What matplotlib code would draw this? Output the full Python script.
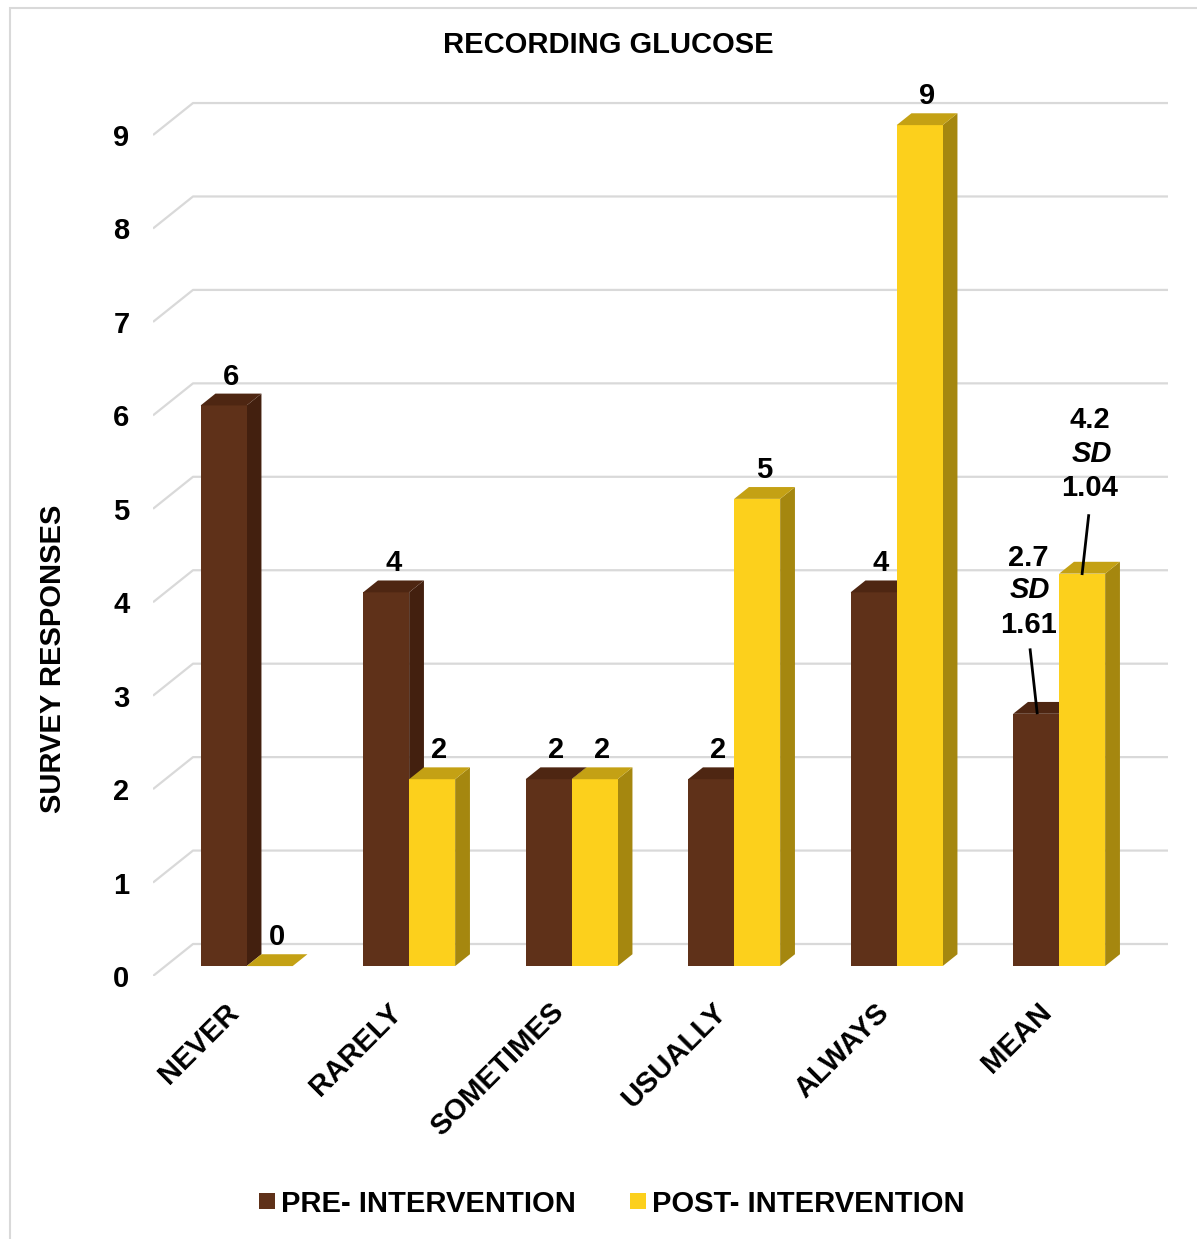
import matplotlib
matplotlib.use("Agg")
import matplotlib.pyplot as plt
from matplotlib.patches import Polygon, Rectangle
from matplotlib.lines import Line2D

# ---- data ----
categories = ["NEVER", "RARELY", "SOMETIMES", "USUALLY", "ALWAYS", "MEAN"]
pre_values = [6, 4, 2, 2, 4, 2.7]
post_values = [0, 2, 2, 5, 9, 4.2]
pre_label = "PRE- INTERVENTION"
post_label = "POST- INTERVENTION"
mean_sd = {"pre": (2.7, 1.61), "post": (4.2, 1.04)}
y_ticks = list(range(10))

# ---- style ----
FONT = ["Liberation Sans", "DejaVu Sans"]
FS = 21
PRE = {"front": "#5F3119", "side": "#43200F", "top": "#4E2612"}
POST = {"front": "#FCD01C", "side": "#A5870F", "top": "#C4A114"}
GRID = "#D9D9D9"

W, H = 1197, 1239
fig = plt.figure(figsize=(W / 100, H / 100), dpi=100)

# plot area (pixels): x 153..1168, y 95..976 from top
PX_X = 162.5   # pixels per category
PX_Y = 93.44   # pixels per response unit
ax_l, ax_r, ax_t, ax_b = 153, 1168, 95, 976
ax = fig.add_axes([ax_l / W, 1 - ax_b / H, (ax_r - ax_l) / W, (ax_b - ax_t) / H])
ax.set_xlim(-0.5, -0.5 + (ax_r - ax_l) / PX_X)
ax.set_ylim(0, (ax_b - ax_t) / PX_Y)
for s in ax.spines.values():
    s.set_visible(False)

def dx(p):
    return p / PX_X

def dy(p):
    return p / PX_Y

# depth of the 3-D box and of the bars
DX, DY = dx(40), dy(32)
D0, D1 = 0.31, 0.68
BDX, BDY = DX * (D1 - D0), DY * (D1 - D0)
BW = dx(46)
n = len(categories)

# back wall gridlines with diagonal on the left wall
for v in y_ticks:
    ax.add_line(Line2D([-0.5, -0.5 + DX, n - 0.5 + DX], [v, v + DY, v + DY],
                       color=GRID, lw=1.6, zorder=1, solid_capstyle="butt"))

def bar3d(left, height, col):
    y0 = DY * D0
    right = left + BW
    ax.add_patch(Polygon([(right, y0), (right + BDX, y0 + BDY),
                          (right + BDX, y0 + height + BDY), (right, y0 + height)],
                         closed=True, fc=col["side"], ec="none", zorder=3))
    if height > 0:
        ax.bar(left, height, width=BW, bottom=y0, align="edge",
               color=col["front"], edgecolor="none", zorder=3)
    ax.add_patch(Polygon([(left, y0 + height), (right, y0 + height),
                          (right + BDX, y0 + height + BDY), (left + BDX, y0 + height + BDY)],
                         closed=True, fc=col["top"], ec="none", zorder=3))
    return left + BW / 2, y0 + height

label_kw = dict(fontsize=FS, fontweight="bold", family=FONT, color="black")
tops = {}
for i in range(n):
    shift = DX * D0
    pl = i + shift - BW
    ql = i + shift
    tops[("pre", i)] = bar3d(pl, pre_values[i], PRE)
    tops[("post", i)] = bar3d(ql, post_values[i], POST)
    if categories[i] != "MEAN":
        for key, val in (("pre", pre_values[i]), ("post", post_values[i])):
            cx, ty = tops[(key, i)]
            ax.text(cx + BDX / 2, ty + BDY + dy(9), f"{val:g}",
                    ha="center", va="baseline", zorder=5, **label_kw)

# mean labels with leader lines
mi = categories.index("MEAN")
specs = {
    "pre": dict(line=((1, 1), (-6, 64)), text=[(-8, 80.5), (-6, 115.5), (-8, 147.5)]),
    "post": dict(line=((0, 0), (6.5, 58)), text=[(7.5, 77.5), (9.5, 111.5), (7.5, 145.5)]),
}
for key, sp in specs.items():
    cx, ty = tops[(key, mi)]
    (sx, sy), (ex, ey) = sp["line"]
    ax.add_line(Line2D([cx + dx(sx), cx + dx(ex)], [ty + dy(sy), ty + dy(ey)],
                       color="black", lw=2.0, zorder=6))
    mean, sd = mean_sd[key]
    lines = [(f"{sd:.2f}", "normal"), ("SD", "italic"), (f"{mean:g}", "normal")]
    for (txt, style), (ox, oy) in zip(lines, sp["text"]):
        ax.text(cx + dx(ox), ty + dy(oy), txt, ha="center", va="baseline",
                style=style, zorder=6, **label_kw)

# y axis tick labels
ax.set_yticks(y_ticks)
ax.set_yticklabels([str(t) for t in y_ticks])
ax.set_xticks([])
ax.tick_params(axis="y", length=0, pad=17)
for t in ax.get_yticklabels():
    t.set_fontsize(FS)
    t.set_fontweight("bold")
    t.set_family(FONT)

# rotated category labels
for i, c in enumerate(categories):
    ax.text(i + dx(10), dy(-22), c, rotation=45, ha="right", va="top",
            rotation_mode="default", clip_on=False, **label_kw)

# titles
fig.text(608 / W, 1 - 45 / H, "RECORDING GLUCOSE", ha="center", va="center",
         **label_kw)
fig.text(53 / W, 1 - 659 / H, "SURVEY RESPONSES", ha="center", va="center",
         rotation=90, **label_kw)

# legend
for (x_sq, x_tx, col, lab) in ((259, 281, PRE, pre_label), (630, 652, POST, post_label)):
    fig.add_artist(Rectangle((x_sq / W, 1 - 1209 / H), 16 / W, 16 / H,
                             transform=fig.transFigure, fc=col["front"], ec="none"))
    fig.text(x_tx / W, 1 - 1211.5 / H, lab, ha="left", va="baseline", **label_kw)

# chart frame
fig.add_artist(Rectangle((10 / W, -0.01), 1.0, 1 - 8 / H + 0.01,
                         transform=fig.transFigure, fc="none", ec=GRID, lw=1.5))

fig.savefig("out.png", dpi=100, facecolor="white")
